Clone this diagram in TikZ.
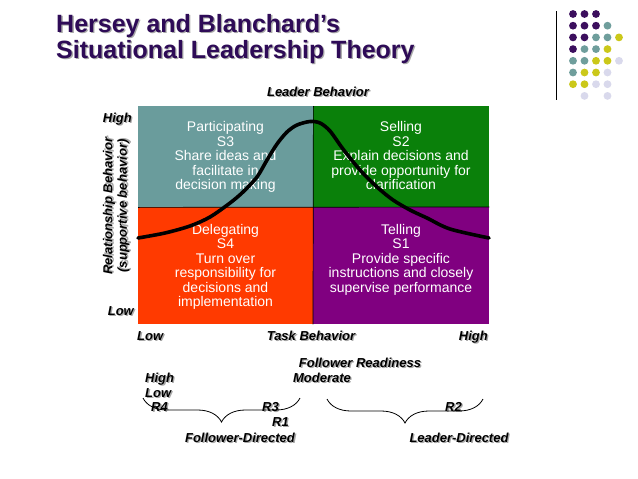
\documentclass[tikz,border=0pt]{standalone}
\usepackage{fontspec}
\setmainfont{Liberation Sans}
\usetikzlibrary{decorations.pathreplacing}
\definecolor{titlepurple}{HTML}{2E0B57}
\definecolor{shadowgray}{HTML}{A8A8A8}
\definecolor{qteal}{HTML}{6A9C9C}
\definecolor{qgreen}{HTML}{0A800A}
\definecolor{qorange}{HTML}{FF3A00}
\definecolor{qpurple}{HTML}{800080}
\definecolor{dpurple}{HTML}{3C0F5E}
\definecolor{dteal}{HTML}{6F9E9C}
\definecolor{dyellow}{HTML}{CBC81A}
\definecolor{dlav}{HTML}{D9D9EC}
\newcommand\shtxt[1]{\rlap{\kern1.3pt\raisebox{-1.3pt}{\textcolor{shadowgray}{#1}}}#1}
\begin{document}
\begin{tikzpicture}[x=1pt,y=-1pt,
  quad/.style={draw=none,inner sep=0pt,anchor=north west},
  qtext/.style={text=white,font=\fontsize{14}{14.5}\selectfont,align=center,inner sep=0pt,anchor=north},
  lbl/.style={font=\fontsize{13}{14}\selectfont\bfseries\itshape,inner sep=0pt},
  ttl/.style={font=\fontsize{25}{26}\selectfont\bfseries,text=titlepurple,inner sep=0pt,align=left},
  brc/.style={decorate,decoration={brace,mirror,amplitude=24pt},line width=0.8pt}]
\useasboundingbox (0,0) rectangle (638,479);
\fill[white] (0,0) rectangle (638,479);
% title
\node[ttl,anchor=base west] (title1) at (56,32.5) {\shtxt{Hersey and Blanchard's}};
\node[ttl,anchor=base west] (title2) at (56,58.5) {\shtxt{Situational Leadership Theory}};
% decorative dots
\draw[line width=0.9pt] (556,11) -- (556,100);
\foreach \c/\r/\col in {1/1/dpurple,2/1/dpurple,3/1/dpurple,
  1/2/dpurple,2/2/dpurple,3/2/dpurple,4/2/dteal,
  1/3/dpurple,2/3/dpurple,3/3/dteal,4/3/dteal,5/3/dyellow,
  1/4/dpurple,2/4/dteal,3/4/dteal,4/4/dyellow,
  1/5/dteal,2/5/dteal,3/5/dyellow,4/5/dyellow,5/5/dlav,
  1/6/dteal,2/6/dyellow,3/6/dyellow,4/6/dlav,
  1/7/dyellow,2/7/dyellow,3/7/dlav,4/7/dlav,
  2/8/dlav,4/8/dlav}
  {\fill[\col] ({561.5+11.5*\c},{2.3+11.7*\r}) circle (3.9);}
% quadrants
\node[quad,fill=qteal,minimum width=175pt,minimum height=101pt] (q3) at (138,106) {};
\node[quad,fill=qgreen,minimum width=176pt,minimum height=101pt] (q2) at (313,106) {};
\node[quad,fill=qorange,minimum width=175pt,minimum height=117pt] (q4) at (138,207) {};
\node[quad,fill=qpurple,minimum width=176pt,minimum height=117pt] (q1) at (313,207) {};
\draw[line width=0.7pt] (q3.north east) -- (q1.south west);
\draw[line width=0.7pt] (q3.south west) -- (q1.north east);
% quadrant texts
\node[qtext] (t3) at (225.5,121.5) {Participating\\S3\\Share ideas and\\facilitate in\\decision making};
\node[qtext] (t2) at (401,121.5) {Selling\\S2\\Explain decisions and\\provide opportunity for\\clarification};
\node[qtext] (t4) at (225.5,224) {Delegating\\S4\\Turn over\\responsibility for\\decisions and\\implementation};
\node[qtext] (t1) at (401,224) {Telling\\S1\\Provide specific\\instructions and closely\\supervise performance};
% curve
\draw[line width=3.6pt,line cap=round] plot[smooth,tension=0.5] coordinates {
  (138,238) (165,233) (190,226) (210,217) (230,203) (243,192) (257,177) (267,160)
  (277,144) (287,132) (297,125) (310,121.5) (320,123) (330,131) (343,149) (360,170)
  (377,187) (393,200) (410,210) (427,218) (450,229) (489,238)};
% axis labels
\node[lbl,anchor=base] (leader) at (318,96.5) {\shtxt{Leader Behavior}};
\node[lbl,anchor=base east] (hiy) at (132,122.5) {\shtxt{High}};
\node[lbl,anchor=base east] (loy) at (134,315.5) {\shtxt{Low}};
\node[lbl,rotate=90,align=center,font=\fontsize{13}{14.5}\selectfont\bfseries\itshape] (rel) at (117,206) {\shtxt{Relationship Behavior}\\\shtxt{(supportive behavior)}};
\node[lbl,anchor=base west] (lox) at (137,340) {\shtxt{Low}};
\node[lbl,anchor=base] (task) at (311,340) {\shtxt{Task Behavior}};
\node[lbl,anchor=base east] (hix) at (488,340) {\shtxt{High}};
\node[lbl,anchor=base] (fr) at (360,367) {\shtxt{Follower Readiness}};
\node[lbl,anchor=base] (mod) at (322,382) {\shtxt{Moderate}};
\node[lbl,anchor=base west] (hir) at (145,382) {\shtxt{High}};
\node[lbl,anchor=base west] (lor) at (145,397) {\shtxt{Low}};
\node[lbl,anchor=base west] (r4) at (151,411.5) {\shtxt{R4}};
\node[lbl,anchor=base west] (r3) at (262,411.5) {\shtxt{R3}};
\node[lbl,anchor=base west] (r1) at (272,426.5) {\shtxt{R1}};
\node[lbl,anchor=base west] (r2) at (445,411.5) {\shtxt{R2}};
\node[lbl,anchor=base] (fd) at (240,442.5) {\shtxt{Follower-Directed}};
\node[lbl,anchor=base] (ld) at (459,442.5) {\shtxt{Leader-Directed}};
% braces
\coordinate (b1a) at (143,398);
\coordinate (b1b) at (300,398);
\coordinate (b2a) at (327,399);
\coordinate (b2b) at (483,399);
\draw[brc] (b1a) -- (b1b);
\draw[brc] (b2a) -- (b2b);
\end{tikzpicture}
\end{document}
